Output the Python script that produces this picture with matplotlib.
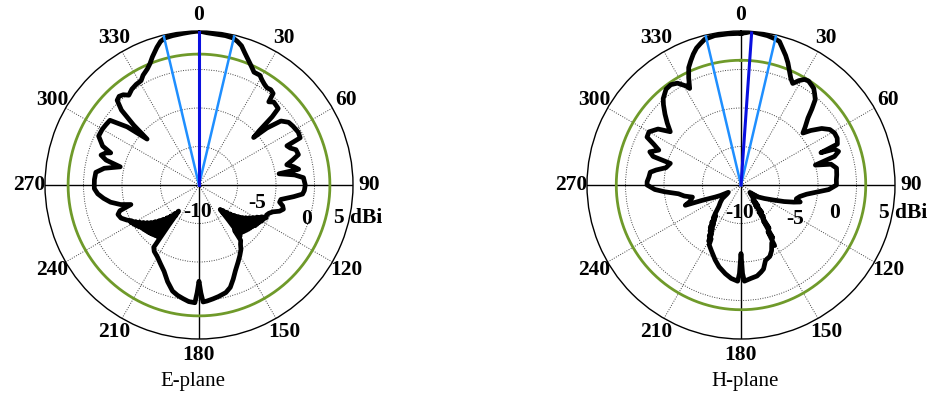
import numpy as np
import matplotlib
matplotlib.use("Agg")
import matplotlib.pyplot as plt

# E-plane pattern: angle [deg], gain [dBi]
e_ang = [0, 3, 7, 10, 13, 15, 17, 19, 21, 24, 26, 29, 31, 33, 35, 37, 39, 40, 42, 44,
         46, 47, 48, 49, 50, 52, 55, 58, 62, 65, 66, 68, 70, 73, 75, 77, 79, 81, 82, 84,
         86, 90, 93, 95, 97, 100, 102, 104, 106, 108, 110, 112, 114, 116, 117, 118, 119, 120, 121, 122,
         123, 124, 125, 126, 127, 128, 129, 130, 131, 132, 133, 134, 135, 136, 137, 138, 139, 140, 141, 142,
         143, 145, 147, 150, 153, 157, 160, 163, 166, 170, 173, 176, 178, 179, 180, 181, 182, 185, 188, 191,
         194, 198, 202, 206, 210, 214, 216, 217, 218, 219, 220, 221, 222, 223, 224, 225, 226, 227, 228, 229,
         230, 231, 232, 233, 234, 235, 236, 237, 238, 239, 240, 241, 242, 244, 247, 250, 252, 254, 256, 259,
         262, 265, 268, 270, 273, 277, 280, 283, 285, 287, 289, 290, 292, 296, 300, 303, 306, 309, 311.5, 312.5,
         314, 316, 318, 320, 322, 325, 328, 331, 333, 336, 338, 340, 343, 345, 347, 350, 354, 357, 360]
e_gain = [5.0, 4.8, 4.7, 4.7, 4.6, 4.3, 3.9, 3.2, 2.6, 1.8, 1.3, 1.3, 0.9, 0.6, 0.4, 0.5, 0.3, -0.9, -0.5, -0.6,
          -0.7, -2.0, -4.5, -5.6, -3.5, -1.5, -0.8, -0.6, -0.4, -0.5, -2.5, -2.2, -1.6, -1.5, -2.4, -3.3, -2.5, -1.9, -4.5, -2.5,
          -1.4, -1.2, -1.3, -1.5, -2.6, -4.2, -4.3, -3.8, -3.6, -4.0, -4.8, -5.2, -5.4, -5.3, -5.9, -5.5, -6.4, -5.6, -6.8, -5.8,
          -7.2, -5.9, -7.6, -6.0, -8.0, -6.2, -8.5, -6.3, -9.0, -6.4, -9.5, -6.5, -10.0, -6.6, -10.5, -6.7, -10.8, -9.0, -6.5, -7.5,
          -6.0, -5.6, -5.0, -4.4, -3.8, -2.9, -2.0, -1.1, -0.6, -0.3, -0.1, 0.1, 0.2, -1.0, -2.5, -1.0, 0.3, 0.2, -0.1, -0.4,
          -0.8, -1.8, -2.9, -3.6, -4.2, -4.6, -5.0, -8.5, -10.7, -6.4, -10.2, -6.3, -9.6, -6.2, -9.1, -6.1, -8.6, -6.0, -8.1, -5.9,
          -7.6, -5.8, -7.1, -5.7, -6.7, -5.5, -6.3, -5.3, -5.9, -5.1, -5.5, -4.9, -5.1, -4.6, -4.0, -3.8, -4.2, -5.8, -4.5, -3.3,
          -2.5, -1.8, -1.4, -1.4, -1.4, -1.5, -2.5, -4.5, -2.5, -1.7, -2.2, -2.8, -1.5, -0.5, -0.5, -0.6, -0.7, -3.0, -6.0, -3.5,
          -1.0, 0.3, 0.5, 0.3, -0.2, 0.2, 0.4, 0.5, 1.0, 1.5, 2.0, 2.7, 3.7, 4.3, 4.6, 4.7, 4.8, 4.9, 5.0]

# H-plane pattern
h_ang = [0, 2, 4, 7, 10, 13, 15, 17, 19, 21, 23, 25, 27, 29, 31, 33, 35, 37, 39, 41,
         43, 45, 48, 50, 52, 55, 58, 61, 64, 67, 68, 69, 71, 73, 75, 77, 80, 84, 87, 90,
         93, 96, 98, 101, 104, 106, 108, 111, 115, 120, 125, 130, 135, 140, 141, 142, 143, 144, 145, 146,
         147, 148, 149, 150, 151, 152, 155, 158, 162, 165, 167, 170, 174, 178, 179, 180, 181, 182, 186, 190,
         195, 199, 204, 208, 209, 210, 211, 212, 213, 214, 215, 216, 217, 218, 219, 220, 222, 226, 230, 234,
         237, 240, 243, 245, 248.5, 250, 252, 256, 259, 262, 265, 267, 270, 272, 275, 278, 280, 283, 287, 288,
         290, 293, 295, 297, 300, 304, 307, 310, 313, 316, 318, 322, 325, 328, 331, 332, 334, 336, 338, 340,
         342, 344, 346, 350, 355, 360]
h_gain = [4.7, 4.8, 5.0, 4.8, 4.7, 4.5, 4.3, 3.5, 2.8, 2.0, 1.1, 0.3, -0.2, 0.5, 1.0, 1.1, 0.9, 0.7, 0.2, -0.3,
          -1.5, -2.7, -3.8, -4.5, -3.5, -2.2, -1.4, -1.1, -1.1, -1.4, -3.8, -2.0, -1.6, -2.3, -5.0, -3.0, -2.4, -2.5, -2.6, -2.6,
          -3.6, -5.5, -6.4, -7.2, -7.6, -7.0, -7.8, -9.0, -10.4, -11.5, -12.3, -13.5, -13.0, -12.1, -11.5, -12.5, -10.5, -11.8, -9.9, -10.8,
          -8.3, -9.5, -7.0, -8.0, -6.0, -6.5, -5.6, -5.0, -4.7, -3.7, -3.4, -3.0, -2.8, -2.5, -3.5, -6.1, -3.5, -2.5, -2.8, -3.3,
          -4.0, -4.7, -5.6, -6.2, -7.0, -6.6, -7.6, -7.2, -8.2, -7.8, -8.8, -8.2, -9.3, -8.8, -9.8, -9.4, -10.0, -11.0, -11.5, -12.0,
          -12.8, -13.1, -12.0, -11.3, -9.5, -7.3, -8.0, -8.5, -7.5, -6.8, -5.0, -3.8, -2.8, -2.8, -3.0, -3.1, -3.8, -5.0, -5.4, -3.0,
          -2.4, -3.4, -2.5, -1.3, -1.2, -2.0, -3.5, -2.5, -1.5, -0.5, 0.1, 0.8, 0.9, 0.6, -0.3, -0.8, 0.5, 1.7, 2.4, 3.1,
          3.7, 4.1, 4.5, 4.7, 4.7, 4.7]

# beam directions and half-power level [deg], [dBi]
e_peak_dir = 0.0
e_hpbw_dirs = [-13.3, 13.3]
e_half_power = 2.0
h_peak_dir = 4.0
h_hpbw_dirs = [-13.3, 13.2]
h_half_power = 1.2

r_min, r_max = -15, 5
ring_vals = [-10, -5, 0]
angle_ticks = list(range(0, 360, 30))

serif = "Liberation Serif"

fig = plt.figure(figsize=(9.31, 3.94), dpi=100)


def polar_panel(rect, ang, gain, peak_dir, hpbw_dirs, half_power):
    ax = fig.add_axes(rect, projection="polar")
    ax.set_theta_zero_location("N")
    ax.set_theta_direction(-1)
    ax.set_ylim(r_min, r_max)
    ax.set_thetagrids(angle_ticks, labels=[])
    ax.set_rgrids(ring_vals, labels=[])
    ax.grid(True, color="#444444", linestyle=(0, (1, 1.5)), linewidth=0.7)
    ax.spines["polar"].set_linewidth(1.0)
    ax.tick_params(length=0)

    # solid cross through the origin
    for a in [0, 90, 180, 270]:
        ax.plot([np.deg2rad(a)] * 2, [r_min, r_max], color="black", lw=1.0, zorder=2)

    th = np.deg2rad(np.linspace(0, 360, 721))
    ax.plot(th, np.full_like(th, half_power), color="#6f9a2a", lw=2.0, zorder=3)

    ax.plot(np.deg2rad(ang), gain, color="black", lw=3.4, solid_joinstyle="round", zorder=4)

    for d in hpbw_dirs:
        ax.plot([np.deg2rad(d)] * 2, [r_min, r_max], color="#1f8fff", lw=1.8, zorder=5)
    ax.plot([np.deg2rad(peak_dir)] * 2, [r_min, r_max], color="#0a10e0", lw=2.2, zorder=6)

    for a in angle_ticks:
        ax.text(np.deg2rad(a), 7.05, str(a), ha="center", va="center",
                fontsize=15.5, fontweight="bold", family=serif, clip_on=False)
    return ax


ax_e = polar_panel([45 / 931, 55 / 394, 308 / 931, 308 / 394], e_ang, e_gain,
                   e_peak_dir, e_hpbw_dirs, e_half_power)
ax_h = polar_panel([587 / 931, 55 / 394, 308 / 931, 308 / 394], h_ang, h_gain,
                   h_peak_dir, h_hpbw_dirs, h_half_power)


# radial scale labels
def fig_txt(x, y, s, **kw):
    fig.text(x / 931, 1 - y / 394, s, fontsize=15.5, fontweight="bold", family=serif,
             va="center", **kw)


fig_txt(198, 212, "-10", ha="center")
fig_txt(257, 203, "-5", ha="center")
fig_txt(307, 219, "0", ha="center")
fig_txt(334, 218, "5 dBi", ha="left")

fig_txt(740, 213, "-10", ha="center")
fig_txt(795, 219, "-5", ha="center")
fig_txt(835, 213, "0", ha="center")
fig_txt(879, 213, "5 dBi", ha="left")

fig.text(193 / 931, 1 - 386 / 394, "E-plane", ha="center", va="baseline", fontsize=15, family=serif)
fig.text(745 / 931, 1 - 386 / 394, "H-plane", ha="center", va="baseline", fontsize=15, family=serif)

fig.savefig("out.png", dpi=100)
